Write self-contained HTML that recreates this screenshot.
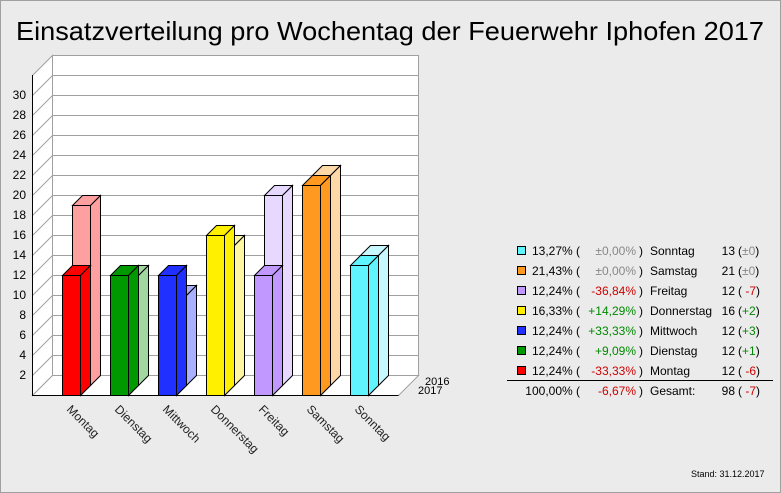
<!DOCTYPE html>
<html><head><meta charset="utf-8"><style>
html,body{margin:0;padding:0;background:#ebebeb;}
svg{display:block;font-family:"Liberation Sans",sans-serif;}
</style></head><body>
<svg width="781" height="493" viewBox="0 0 781 493" xmlns="http://www.w3.org/2000/svg">
<rect x="0.5" y="0.5" width="780" height="492" fill="#ebebeb" stroke="#a0a0a0"/>
<text x="390" y="40" font-size="26" text-anchor="middle" textLength="748" lengthAdjust="spacingAndGlyphs" fill="#000">Einsatzverteilung pro Wochentag der Feuerwehr Iphofen 2017</text>
<!-- walls -->
<polygon points="52.5,55.5 418.5,55.5 418.5,375.5 52.5,375.5" fill="#fff" stroke="#a0a0a0"/>
<polygon points="32.5,75.5 52.5,55.5 52.5,375.5 32.5,395.5" fill="#fff" stroke="#a0a0a0"/>
<polygon points="32.5,395.5 52.5,375.5 418.5,375.5 398.5,395.5" fill="#fff" stroke="#a0a0a0"/>
<g stroke="#a0a0a0" stroke-width="1">
<line x1="52.5" y1="75.5" x2="418.5" y2="75.5"/><line x1="32.5" y1="95.5" x2="52.5" y2="75.5"/>
<line x1="52.5" y1="95.5" x2="418.5" y2="95.5"/><line x1="32.5" y1="115.5" x2="52.5" y2="95.5"/>
<line x1="52.5" y1="115.5" x2="418.5" y2="115.5"/><line x1="32.5" y1="135.5" x2="52.5" y2="115.5"/>
<line x1="52.5" y1="135.5" x2="418.5" y2="135.5"/><line x1="32.5" y1="155.5" x2="52.5" y2="135.5"/>
<line x1="52.5" y1="155.5" x2="418.5" y2="155.5"/><line x1="32.5" y1="175.5" x2="52.5" y2="155.5"/>
<line x1="52.5" y1="175.5" x2="418.5" y2="175.5"/><line x1="32.5" y1="195.5" x2="52.5" y2="175.5"/>
<line x1="52.5" y1="195.5" x2="418.5" y2="195.5"/><line x1="32.5" y1="215.5" x2="52.5" y2="195.5"/>
<line x1="52.5" y1="215.5" x2="418.5" y2="215.5"/><line x1="32.5" y1="235.5" x2="52.5" y2="215.5"/>
<line x1="52.5" y1="235.5" x2="418.5" y2="235.5"/><line x1="32.5" y1="255.5" x2="52.5" y2="235.5"/>
<line x1="52.5" y1="255.5" x2="418.5" y2="255.5"/><line x1="32.5" y1="275.5" x2="52.5" y2="255.5"/>
<line x1="52.5" y1="275.5" x2="418.5" y2="275.5"/><line x1="32.5" y1="295.5" x2="52.5" y2="275.5"/>
<line x1="52.5" y1="295.5" x2="418.5" y2="295.5"/><line x1="32.5" y1="315.5" x2="52.5" y2="295.5"/>
<line x1="52.5" y1="315.5" x2="418.5" y2="315.5"/><line x1="32.5" y1="335.5" x2="52.5" y2="315.5"/>
<line x1="52.5" y1="335.5" x2="418.5" y2="335.5"/><line x1="32.5" y1="355.5" x2="52.5" y2="335.5"/>
<line x1="52.5" y1="355.5" x2="418.5" y2="355.5"/><line x1="32.5" y1="375.5" x2="52.5" y2="355.5"/>
</g>
<line x1="32.5" y1="75" x2="32.5" y2="396" stroke="#000"/>
<line x1="32" y1="395.5" x2="398.5" y2="395.5" stroke="#000"/>
<g font-size="12" text-anchor="end" fill="#000">
<text x="26" y="99">30</text><text x="26" y="119">28</text><text x="26" y="139">26</text><text x="26" y="159">24</text>
<text x="26" y="179">22</text><text x="26" y="199">20</text><text x="26" y="219">18</text><text x="26" y="239">16</text>
<text x="26" y="259">14</text><text x="26" y="279">12</text><text x="26" y="299">10</text><text x="26" y="319">8</text>
<text x="26" y="339">6</text><text x="26" y="359">4</text><text x="26" y="379">2</text>
</g>
<text x="425" y="385" font-size="11">2016</text>
<text x="418" y="394" font-size="11">2017</text>
<g stroke="#000" stroke-width="1">
<!-- 2016 bars -->
<g fill="#ffa0a0"><rect x="72.5" y="205.5" width="18" height="180"/><polygon points="72.5,205.5 82.5,195.5 100.5,195.5 90.5,205.5"/><polygon points="90.5,205.5 100.5,195.5 100.5,375.5 90.5,385.5"/></g>
<g fill="#a0d8a0"><rect x="120.5" y="275.5" width="18" height="110"/><polygon points="120.5,275.5 130.5,265.5 148.5,265.5 138.5,275.5"/><polygon points="138.5,275.5 148.5,265.5 148.5,375.5 138.5,385.5"/></g>
<g fill="#a8b0ff"><rect x="168.5" y="295.5" width="18" height="90"/><polygon points="168.5,295.5 178.5,285.5 196.5,285.5 186.5,295.5"/><polygon points="186.5,295.5 196.5,285.5 196.5,375.5 186.5,385.5"/></g>
<g fill="#fff8a0"><rect x="216.5" y="245.5" width="18" height="140"/><polygon points="216.5,245.5 226.5,235.5 244.5,235.5 234.5,245.5"/><polygon points="234.5,245.5 244.5,235.5 244.5,375.5 234.5,385.5"/></g>
<g fill="#e6d8ff"><rect x="264.5" y="195.5" width="18" height="190"/><polygon points="264.5,195.5 274.5,185.5 292.5,185.5 282.5,195.5"/><polygon points="282.5,195.5 292.5,185.5 292.5,375.5 282.5,385.5"/></g>
<g fill="#ffd8a8"><rect x="312.5" y="175.5" width="18" height="210"/><polygon points="312.5,175.5 322.5,165.5 340.5,165.5 330.5,175.5"/><polygon points="330.5,175.5 340.5,165.5 340.5,375.5 330.5,385.5"/></g>
<g fill="#c8f8ff"><rect x="360.5" y="255.5" width="18" height="130"/><polygon points="360.5,255.5 370.5,245.5 388.5,245.5 378.5,255.5"/><polygon points="378.5,255.5 388.5,245.5 388.5,375.5 378.5,385.5"/></g>
<!-- 2017 bars -->
<g fill="#ff0000"><rect x="62.5" y="275.5" width="18" height="120"/><polygon points="62.5,275.5 72.5,265.5 90.5,265.5 80.5,275.5"/><polygon points="80.5,275.5 90.5,265.5 90.5,385.5 80.5,395.5"/></g>
<g fill="#009900"><rect x="110.5" y="275.5" width="18" height="120"/><polygon points="110.5,275.5 120.5,265.5 138.5,265.5 128.5,275.5"/><polygon points="128.5,275.5 138.5,265.5 138.5,385.5 128.5,395.5"/></g>
<g fill="#2030ff"><rect x="158.5" y="275.5" width="18" height="120"/><polygon points="158.5,275.5 168.5,265.5 186.5,265.5 176.5,275.5"/><polygon points="176.5,275.5 186.5,265.5 186.5,385.5 176.5,395.5"/></g>
<g fill="#fff000"><rect x="206.5" y="235.5" width="18" height="160"/><polygon points="206.5,235.5 216.5,225.5 234.5,225.5 224.5,235.5"/><polygon points="224.5,235.5 234.5,225.5 234.5,385.5 224.5,395.5"/></g>
<g fill="#c098ff"><rect x="254.5" y="275.5" width="18" height="120"/><polygon points="254.5,275.5 264.5,265.5 282.5,265.5 272.5,275.5"/><polygon points="272.5,275.5 282.5,265.5 282.5,385.5 272.5,395.5"/></g>
<g fill="#ff9920"><rect x="302.5" y="185.5" width="18" height="210"/><polygon points="302.5,185.5 312.5,175.5 330.5,175.5 320.5,185.5"/><polygon points="320.5,185.5 330.5,175.5 330.5,385.5 320.5,395.5"/></g>
<g fill="#60f4ff"><rect x="350.5" y="265.5" width="18" height="130"/><polygon points="350.5,265.5 360.5,255.5 378.5,255.5 368.5,265.5"/><polygon points="368.5,265.5 378.5,255.5 378.5,385.5 368.5,395.5"/></g>
</g>
<g font-size="12" fill="#222">
<text transform="translate(66,410) rotate(45)">Montag</text>
<text transform="translate(114,410) rotate(45)">Dienstag</text>
<text transform="translate(162,410) rotate(45)">Mittwoch</text>
<text transform="translate(210,410) rotate(45)">Donnerstag</text>
<text transform="translate(258,410) rotate(45)">Freitag</text>
<text transform="translate(306,410) rotate(45)">Samstag</text>
<text transform="translate(354,410) rotate(45)">Sonntag</text>
</g>
<!-- legend -->
<g font-size="12" fill="#000">
<g stroke="#000">
<rect x="517.5" y="246.5" width="8" height="8" fill="#60f4ff"/>
<rect x="517.5" y="266.5" width="8" height="8" fill="#ff9920"/>
<rect x="517.5" y="286.5" width="8" height="8" fill="#c098ff"/>
<rect x="517.5" y="306.5" width="8" height="8" fill="#fff000"/>
<rect x="517.5" y="326.5" width="8" height="8" fill="#2030ff"/>
<rect x="517.5" y="346.5" width="8" height="8" fill="#009900"/>
<rect x="517.5" y="366.5" width="8" height="8" fill="#ff0000"/>
</g>
<g text-anchor="end">
<text x="580" y="255">13,27% (</text><text x="580" y="275">21,43% (</text><text x="580" y="295">12,24% (</text>
<text x="580" y="315">16,33% (</text><text x="580" y="335">12,24% (</text><text x="580" y="355">12,24% (</text>
<text x="580" y="375">12,24% (</text><text x="580" y="395">100,00% (</text>
<text x="636" y="255" fill="#888">±0,00%</text><text x="636" y="275" fill="#888">±0,00%</text>
<text x="636" y="295" fill="#cc0000">-36,84%</text><text x="636" y="315" fill="#008800">+14,29%</text>
<text x="636" y="335" fill="#008800">+33,33%</text><text x="636" y="355" fill="#008800">+9,09%</text>
<text x="636" y="375" fill="#cc0000">-33,33%</text><text x="636" y="395" fill="#cc0000">-6,67%</text>
<text x="735" y="255">13</text><text x="735" y="275">21</text><text x="735" y="295">12</text><text x="735" y="315">16</text>
<text x="735" y="335">12</text><text x="735" y="355">12</text><text x="735" y="375">12</text><text x="735" y="395">98</text>
</g>
<g>
<text x="639" y="255">)</text><text x="639" y="275">)</text><text x="639" y="295">)</text><text x="639" y="315">)</text>
<text x="639" y="335">)</text><text x="639" y="355">)</text><text x="639" y="375">)</text><text x="639" y="395">)</text>
<text x="650" y="255">Sonntag</text><text x="650" y="275">Samstag</text><text x="650" y="295">Freitag</text>
<text x="650" y="315">Donnerstag</text><text x="650" y="335">Mittwoch</text><text x="650" y="355">Dienstag</text>
<text x="650" y="375">Montag</text><text x="650" y="395">Gesamt:</text>
<text x="738" y="255">(<tspan fill="#888">±0</tspan>)</text>
<text x="738" y="275">(<tspan fill="#888">±0</tspan>)</text>
<text x="738" y="295">( <tspan fill="#cc0000">-7</tspan>)</text>
<text x="738" y="315">(<tspan fill="#008800">+2</tspan>)</text>
<text x="738" y="335">(<tspan fill="#008800">+3</tspan>)</text>
<text x="738" y="355">(<tspan fill="#008800">+1</tspan>)</text>
<text x="738" y="375">( <tspan fill="#cc0000">-6</tspan>)</text>
<text x="738" y="395">( <tspan fill="#cc0000">-7</tspan>)</text>
</g>
<line x1="507" y1="380.5" x2="773" y2="380.5" stroke="#000"/>
</g>
<text x="691" y="477" font-size="9" fill="#000">Stand: 31.12.2017</text>
</svg>
</body></html>
